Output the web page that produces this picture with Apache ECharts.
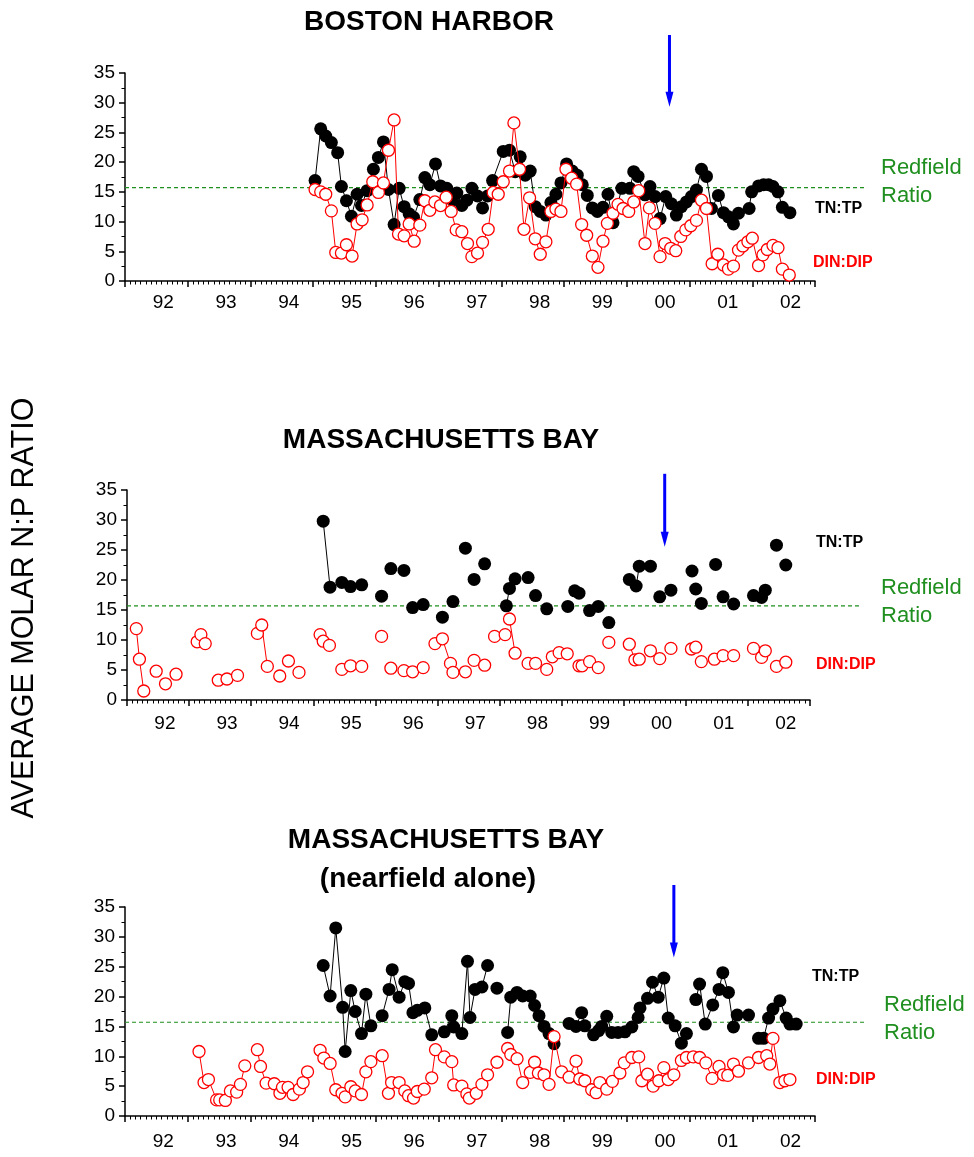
<!DOCTYPE html>
<html lang="en">
<head>
<meta charset="UTF-8">
<title>Average molar N:P ratio</title>
<script src="https://cdn.jsdelivr.net/npm/echarts@6/dist/echarts.min.js"></script>
<style>
  * { margin: 0; padding: 0 }
  html, body { width: 100%; height: 100%; background: #fff; }
</style>
</head>
<body>
<div id="main" style="width:974px;height:1157px"></div>
<script>
// ---- data (decimal year, ratio); null = gap in the connecting line ----
var yearTicks = [1992, 1993, 1994, 1995, 1996, 1997, 1998, 1999, 2000, 2001, 2002];
var REDFIELD = 15.7;

// Boston Harbor
var harborTN = [
  [1995.03,16.9],[1995.12,25.6],[1995.20,24.4],[1995.29,23.3],[1995.39,21.6],[1995.45,15.9],[1995.53,13.5],
  [1995.61,10.9],[1995.70,14.6],[1995.77,12.7],[1995.86,15.2],[1995.96,18.8],[1996.04,20.8],[1996.12,23.4],
  [1996.20,15.4],[1996.29,9.5],[1996.37,15.6],[1996.45,12.5],[1996.53,11.3],[1996.60,10.7],[1996.70,13.7],
  [1996.78,17.4],[1996.86,16.2],[1996.95,19.7],[1997.03,16.0],[1997.13,15.6],[1997.22,13.6],[1997.29,14.8],
  [1997.37,12.7],[1997.45,13.6],[1997.53,15.6],[1997.62,14.3],[1997.70,12.3],[1997.78,14.3],[1997.86,16.9],
  [1998.03,21.8],[1998.13,22.0],[1998.22,18.4],[1998.30,20.9],[1998.38,17.8],[1998.46,18.5],[1998.54,12.5],
  [1998.62,11.7],[1998.71,11.1],[1998.79,13.2],[1998.87,14.6],[1998.95,16.5],[1999.04,19.7],[1999.13,18.5],
  [1999.21,17.8],[1999.29,16.2],[1999.37,14.4],[1999.45,12.3],[1999.53,11.7],[1999.62,12.4],[1999.70,14.6],
  [1999.78,9.8],[1999.92,15.6],[2000.05,15.6],[2000.11,18.4],[2000.18,17.6],[2000.29,14.5],[2000.37,15.9],
  [2000.45,14.2],[2000.53,10.5],[2000.62,14.2],[2000.71,13.0],[2000.79,11.1],[2000.87,12.5],[2000.95,13.3],
  [2001.03,14.2],[2001.11,15.3],[2001.19,18.8],[2001.27,17.6],[2001.35,12.2],[2001.46,14.4],[2001.54,11.5],
  [2001.62,10.8],[2001.70,9.6],[2001.78,11.4],[2001.95,12.2],[2001.99,15.0],[2002.10,16.0],[2002.18,16.2],
  [2002.26,16.2],[2002.33,15.9],[2002.41,15.0],[2002.48,12.4],[2002.60,11.5]
];
var harborDIN = [
  [1995.03,15.4],[1995.12,15.0],[1995.20,14.6],[1995.29,11.8],[1995.36,4.8],[1995.45,4.7],[1995.53,6.1],
  [1995.62,4.2],[1995.70,9.6],[1995.78,10.3],[1995.86,12.8],[1995.95,16.7],[1996.04,14.9],[1996.12,16.5],
  [1996.20,22.0],[1996.29,27.1],[1996.36,7.9],[1996.45,7.6],[1996.53,9.6],[1996.61,6.7],[1996.70,9.4],
  [1996.78,13.5],[1996.86,11.9],[1996.94,13.3],[1997.03,12.7],[1997.12,14.1],[1997.20,11.7],[1997.28,8.6],
  [1997.37,8.3],[1997.46,6.3],[1997.53,4.1],[1997.62,4.7],[1997.70,6.5],[1997.79,8.7],[1997.87,14.9],
  [1997.95,14.6],[1998.03,16.7],[1998.13,18.5],[1998.20,26.6],[1998.29,18.8],[1998.36,8.7],[1998.45,14.0],
  [1998.54,7.1],[1998.62,4.5],[1998.71,6.6],[1998.79,11.7],[1998.87,12.1],[1998.95,11.7],[1999.03,18.8],
  [1999.12,17.3],[1999.20,16.3],[1999.28,9.5],[1999.36,7.7],[1999.45,4.2],[1999.54,2.3],[1999.62,6.7],
  [1999.69,9.7],[1999.78,11.4],[1999.86,12.9],[1999.94,12.2],[2000.03,11.7],[2000.11,13.3],[2000.19,15.2],
  [2000.29,6.3],[2000.36,12.3],[2000.45,9.7],[2000.53,4.1],[2000.61,6.3],[2000.70,5.5],[2000.78,5.1],
  [2000.86,7.5],[2000.94,8.6],[2001.02,9.3],[2001.11,10.2],[2001.19,13.6],[2001.27,12.2],[2001.36,2.9],
  [2001.45,4.5],[2001.54,2.7],[2001.62,2.0],[2001.70,2.5],[2001.78,5.2],[2001.85,5.9],[2001.93,6.6],
  [2002.00,7.2],[2002.10,2.6],[2002.17,4.4],[2002.24,5.3],[2002.33,6.0],[2002.41,5.6],[2002.48,2.0],
  [2002.59,1.0]
];

// Massachusetts Bay
var bayTN = [
  [1995.16,29.8],[1995.27,18.8],null,[1995.46,19.6],null,[1995.60,18.9],null,[1995.78,19.2],null,
  [1996.10,17.3],null,[1996.25,21.9],null,[1996.46,21.6],null,[1996.60,15.4],null,[1996.77,15.9],null,
  [1997.08,13.8],null,[1997.25,16.4],null,[1997.45,25.3],null,[1997.59,20.1],null,[1997.76,22.7],null,
  [1998.11,15.7],[1998.16,18.6],null,[1998.25,20.2],null,[1998.46,20.4],null,[1998.58,17.4],null,
  [1998.76,15.2],null,[1999.10,15.6],null,[1999.21,18.2],null,[1999.28,17.8],null,[1999.45,14.9],null,
  [1999.59,15.6],null,[1999.76,12.9],null,[2000.09,20.1],null,[2000.20,19.0],[2000.25,22.3],null,
  [2000.43,22.3],null,[2000.58,17.2],null,[2000.76,18.3],null,[2001.10,21.5],null,[2001.16,18.5],null,
  [2001.25,16.1],null,[2001.48,22.6],null,[2001.60,17.2],null,[2001.77,16.0],null,[2002.09,17.4],null,
  [2002.22,17.1],null,[2002.28,18.3],null,[2002.46,25.8],null,[2002.61,22.5]
];
var bayDIN = [
  [1992.15,11.9],[1992.20,6.8],[1992.27,1.5],null,[1992.47,4.8],null,[1992.62,2.7],null,[1992.79,4.3],null,
  [1993.13,9.7],null,[1993.19,10.9],null,[1993.26,9.4],null,[1993.47,3.3],null,[1993.61,3.5],null,
  [1993.78,4.1],null,[1994.10,11.1],null,[1994.17,12.5],[1994.26,5.6],null,[1994.46,4.0],null,
  [1994.60,6.5],null,[1994.77,4.6],null,[1995.11,10.9],null,[1995.16,9.8],null,[1995.26,9.1],null,
  [1995.46,5.1],null,[1995.60,5.7],null,[1995.78,5.6],null,[1996.10,10.6],null,[1996.25,5.3],null,
  [1996.46,4.9],null,[1996.60,4.7],null,[1996.77,5.4],null,[1996.96,9.4],null,[1997.08,10.2],[1997.21,6.1],null,
  [1997.25,4.6],null,[1997.45,4.7],null,[1997.59,6.6],null,[1997.76,5.8],null,[1997.92,10.6],null,
  [1998.09,10.9],null,[1998.16,13.5],[1998.25,7.8],null,[1998.46,6.1],null,[1998.58,6.1],null,
  [1998.76,5.1],null,[1998.85,7.2],null,[1998.96,7.9],null,[1999.09,7.7],null,[1999.28,5.7],null,
  [1999.33,5.7],null,[1999.45,6.4],null,[1999.59,5.4],null,[1999.76,9.6],null,[2000.09,9.3],[2000.18,6.7],null,
  [2000.25,6.8],null,[2000.43,8.2],null,[2000.58,6.9],null,[2000.76,8.6],null,[2001.09,8.5],null,
  [2001.16,8.8],null,[2001.25,6.4],null,[2001.46,6.8],null,[2001.60,7.4],null,[2001.77,7.4],null,
  [2002.09,8.6],null,[2002.22,7.1],null,[2002.28,8.2],null,[2002.46,5.6],null,[2002.61,6.3]
];

// Massachusetts Bay, nearfield alone
var nearTN = [
  [1995.16,25.2],[1995.27,20.1],[1995.36,31.5],[1995.47,18.2],[1995.51,10.8],[1995.60,21.0],[1995.67,17.5],
  [1995.77,13.8],[1995.84,20.4],[1995.92,15.1],null,[1996.10,16.8],[1996.21,21.2],[1996.26,24.5],[1996.37,19.9],
  [1996.46,22.5],[1996.52,22.2],[1996.59,17.3],[1996.66,17.7],[1996.78,18.1],[1996.89,13.6],null,[1997.09,14.1],
  [1997.21,16.8],[1997.24,14.9],[1997.37,13.8],[1997.46,25.9],[1997.50,16.5],[1997.58,21.2],[1997.69,21.6],
  [1997.78,25.2],null,[1997.93,21.4],null,[1998.10,14.0],[1998.15,19.9],[1998.25,20.7],[1998.34,20.1],
  [1998.46,20.1],[1998.53,18.5],[1998.60,16.8],[1998.68,15.0],[1998.76,13.8],[1998.84,12.1],null,
  [1999.08,15.5],[1999.19,15.0],[1999.28,17.3],[1999.33,15.1],[1999.47,13.6],[1999.55,14.3],[1999.60,15.0],
  [1999.68,16.7],[1999.76,14.0],[1999.86,14.0],[1999.97,14.1],[2000.08,14.9],[2000.18,16.5],[2000.21,18.1],
  [2000.33,19.7],[2000.41,22.4],[2000.50,19.9],[2000.59,23.1],[2000.66,16.4],[2000.77,15.1],[2000.87,12.2],
  [2000.95,13.8],null,[2001.10,19.5],[2001.16,22.1],[2001.25,15.4],[2001.37,18.6],[2001.47,21.2],[2001.53,24.0],
  [2001.62,20.7],[2001.70,14.9],[2001.76,16.9],[2001.94,16.9],null,[2002.10,13.0],[2002.18,13.0],[2002.26,16.4],
  [2002.33,17.9],[2002.44,19.3],[2002.54,16.4],[2002.60,15.4],[2002.70,15.4]
];
var nearDIN = [
  [1993.18,10.8],[1993.26,5.6],[1993.33,6.1],[1993.46,2.7],[1993.51,2.7],[1993.60,2.6],[1993.68,4.2],
  [1993.78,4.0],[1993.84,5.3],[1993.91,8.4],null,[1994.11,11.1],[1994.16,8.3],[1994.25,5.5],[1994.38,5.4],
  [1994.47,3.8],[1994.51,4.8],[1994.60,4.8],[1994.68,3.6],[1994.78,4.5],[1994.84,5.6],[1994.91,7.4],null,
  [1995.11,11.0],[1995.17,9.7],[1995.27,8.8],[1995.36,4.4],[1995.46,3.8],[1995.51,3.2],[1995.60,4.9],
  [1995.67,4.2],[1995.77,3.6],[1995.84,7.4],[1995.92,9.1],null,[1996.10,10.1],[1996.20,3.8],[1996.25,5.6],
  [1996.37,5.6],[1996.46,4.2],[1996.52,3.4],[1996.60,3.0],[1996.66,4.1],[1996.77,4.5],[1996.89,6.4],
  [1996.95,11.1],[1997.09,9.9],[1997.21,9.1],[1997.24,5.2],[1997.37,5.0],[1997.45,3.7],[1997.49,3.0],
  [1997.60,3.8],[1997.69,5.3],[1997.78,6.9],[1997.93,9.0],null,[1998.10,11.3],[1998.15,10.3],[1998.25,9.6],
  [1998.34,5.6],[1998.46,7.3],[1998.53,9.0],[1998.59,7.2],[1998.68,6.9],[1998.76,5.3],[1998.84,13.3],
  [1998.96,7.4],[1999.08,6.5],[1999.19,9.2],[1999.25,6.2],[1999.33,5.9],[1999.44,4.4],[1999.51,3.9],
  [1999.57,5.6],[1999.68,4.5],[1999.77,5.8],[1999.89,7.2],[1999.96,8.9],[2000.08,9.8],[2000.19,9.9],
  [2000.24,5.9],[2000.33,7.0],[2000.42,5.0],[2000.51,5.9],[2000.59,8.1],[2000.66,6.1],[2000.75,6.9],
  [2000.87,9.3],[2000.95,9.8],[2001.06,9.9],[2001.16,9.8],[2001.26,8.9],[2001.36,6.3],[2001.47,8.3],
  [2001.54,6.9],[2001.61,6.8],[2001.70,8.7],[2001.78,7.5],[2001.94,8.9],[2002.10,9.8],[2002.23,10.1],
  [2002.28,8.7],[2002.33,13.0],[2002.44,5.6],[2002.52,5.9],[2002.60,6.1]
];

// outfall start arrow (x = decimal year, top / head in ratio units, drawn above the plot)
var arrowX = [2000.68, 2000.66, 2000.75];
var arrowTop = [41.4, 37.7, 38.7];
var arrowHead = [30.6, 26.8, 27.8];

var panels = [
  { tn: harborTN, din: harborDIN },
  { tn: bayTN, din: bayDIN },
  { tn: nearTN, din: nearDIN }
];

// ---- layout ----
var FONT = '"Liberation Sans", Arial, Helvetica, sans-serif';
var RED = '#ff0000', GREEN = '#1f8f1f', BLUE = '#0000ff';
var grids = [
  { left: 125, top: 73, width: 690, height: 208 },
  { left: 127, top: 490, width: 683, height: 210 },
  { left: 125, top: 907, width: 690, height: 209 }
];
var labelMargin = [12, 14, 16];
var LABEL_SHIFT = 0.61;     // year labels sit right of the year tick
var REDFIELD_END = 2003.83; // the Redfield line runs on past the axis end
var N = grids.length;

function toData(pts) {
  return pts.map(function (p) { return p ? p : ['-', '-']; });
}

var allGrids = [], xAxes = [], yAxes = [], series = [];
grids.forEach(function (g, i) {
  allGrids.push(g);
  xAxes.push({
    type: 'value', gridIndex: i, min: 1992, max: 2003, interval: 1,
    axisLine: { show: true, lineStyle: { color: '#000', width: 1.5 } },
    axisTick: { show: true, length: 6, lineStyle: { color: '#000', width: 1.5 } },
    minorTick: { show: true, splitNumber: 12, length: 3.5, lineStyle: { color: '#000', width: 1 } },
    splitLine: { show: false },
    axisLabel: {
      customValues: yearTicks.map(function (y) { return y + LABEL_SHIFT; }),
      formatter: function (v) { return String(Math.floor(v)).slice(2); },
      fontSize: 19, color: '#000', fontFamily: FONT, margin: labelMargin[i]
    }
  });
  yAxes.push({
    type: 'value', gridIndex: i, min: 0, max: 35, interval: 5,
    axisLine: { show: true, lineStyle: { color: '#000', width: 1.5 } },
    axisTick: { show: true, length: 6, lineStyle: { color: '#000', width: 1.5 } },
    minorTick: { show: true, splitNumber: 2, length: 3.5, lineStyle: { color: '#000', width: 1 } },
    splitLine: { show: false },
    axisLabel: { fontSize: 19, color: '#000', fontFamily: FONT, margin: 10 }
  });

  series.push({
    name: 'TN:TP', type: 'line', xAxisIndex: i, yAxisIndex: i, z: 2,
    symbol: 'circle', symbolSize: 13, showAllSymbol: true, connectNulls: false,
    itemStyle: { color: '#000' },
    lineStyle: { color: '#000', width: 1 },
    data: toData(panels[i].tn)
  });
  series.push({
    name: 'DIN:DIP', type: 'line', xAxisIndex: i, yAxisIndex: i, z: 3,
    symbol: 'circle', symbolSize: 12, showAllSymbol: true, connectNulls: false,
    itemStyle: { color: '#fff', borderColor: RED, borderWidth: 1.3 },
    lineStyle: { color: RED, width: 1 },
    data: toData(panels[i].din)
  });
  series.push({
    name: 'outfall', type: 'line', xAxisIndex: i, yAxisIndex: i, clip: false, silent: true,
    symbol: 'none', z: 4,
    lineStyle: { color: BLUE, width: 3 },
    itemStyle: { color: BLUE },
    data: [
      [arrowX[i], arrowTop[i]],
      { value: [arrowX[i], arrowHead[i]], symbol: 'triangle', symbolSize: [8, 15], symbolRotate: 180 }
    ]
  });
});

// hidden wider grids carrying the Redfield reference line past the axis end
grids.forEach(function (g, i) {
  var k = N + i;
  var wide = { left: g.left, top: g.top, height: g.height,
               width: g.width * (REDFIELD_END - 1992) / (2003 - 1992) };
  allGrids.push(wide);
  xAxes.push({ type: 'value', gridIndex: k, min: 1992, max: REDFIELD_END, show: false });
  yAxes.push({ type: 'value', gridIndex: k, min: 0, max: 35, show: false });
  series.push({
    name: 'Redfield', type: 'line', xAxisIndex: k, yAxisIndex: k, silent: true,
    symbol: 'none', z: 1,
    lineStyle: { color: GREEN, width: 1.2, type: [4, 3] },
    data: [[1992, REDFIELD], [REDFIELD_END, REDFIELD]]
  });
});

function txt(text, x, y, size, opts) {
  opts = opts || {};
  return {
    type: 'text', x: x, y: y, rotation: opts.rotation || 0, silent: true,
    style: {
      text: text, fill: opts.color || '#000',
      font: (opts.bold ? 'bold ' : '') + size + 'px ' + FONT,
      align: opts.align || 'center', verticalAlign: 'middle',
      lineHeight: opts.lineHeight
    }
  };
}

var graphics = [
  txt('BOSTON HARBOR', 429, 22, 28, { bold: true }),
  txt('MASSACHUSETTS BAY', 441, 440, 28, { bold: true }),
  txt('MASSACHUSETTS BAY', 446, 840, 28, { bold: true }),
  txt('(nearfield alone)', 428, 879, 28, { bold: true }),
  txt('AVERAGE MOLAR N:P RATIO', 25, 608, 30.5, { rotation: Math.PI / 2 }),

  txt('Redfield\nRatio', 881, 182, 22, { align: 'left', color: GREEN, lineHeight: 28 }),
  txt('TN:TP', 815, 209, 16, { align: 'left', bold: true }),
  txt('DIN:DIP', 813, 263, 16, { align: 'left', bold: true, color: RED }),

  txt('TN:TP', 816, 543, 16, { align: 'left', bold: true }),
  txt('Redfield\nRatio', 881, 602, 22, { align: 'left', color: GREEN, lineHeight: 28 }),
  txt('DIN:DIP', 816, 665, 16, { align: 'left', bold: true, color: RED }),

  txt('TN:TP', 812, 977, 16, { align: 'left', bold: true }),
  txt('Redfield\nRatio', 884, 1019, 22, { align: 'left', color: GREEN, lineHeight: 28 }),
  txt('DIN:DIP', 816, 1080, 16, { align: 'left', bold: true, color: RED })
];

var chart = echarts.init(document.getElementById('main'), null, { renderer: 'canvas' });
chart.setOption({
  animation: false,
  backgroundColor: '#fff',
  textStyle: { fontFamily: FONT },
  grid: allGrids,
  xAxis: xAxes,
  yAxis: yAxes,
  series: series,
  graphic: graphics
});
</script>
</body>
</html>
